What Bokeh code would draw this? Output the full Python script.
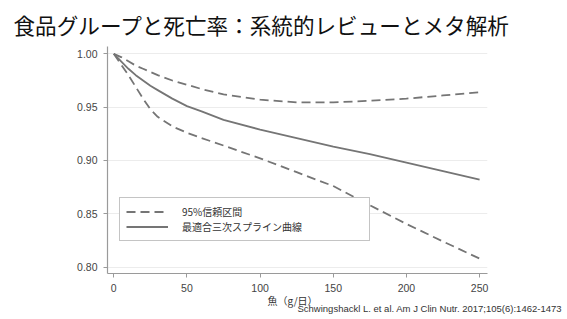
from bokeh.plotting import figure
from bokeh.models import Range1d, Legend, LegendItem, Title, FixedTicker, NumeralTickFormatter
from bokeh.embed import file_html
from bokeh.resources import INLINE

title_text = "食品グループと死亡率：系統的レビューとメタ解析"
x_label = "魚（g/日）"
citation = "Schwingshackl L. et al. Am J Clin Nutr. 2017;105(6):1462-1473"
legend_ci = "95%信頼区間"
legend_fit = "最適合三次スプライン曲線"

fish = [0, 5, 10, 15, 20, 25, 30, 40, 50, 60, 75, 100, 125, 150, 175, 200, 225, 250]
upper = [1.000, 0.997, 0.993, 0.989, 0.986, 0.983, 0.980, 0.975, 0.971, 0.967, 0.962,
         0.957, 0.9545, 0.9545, 0.956, 0.958, 0.961, 0.964]
fit = [1.000, 0.993, 0.986, 0.980, 0.975, 0.970, 0.966, 0.958, 0.951, 0.946, 0.938,
       0.929, 0.921, 0.913, 0.906, 0.898, 0.890, 0.882]
lower = [1.000, 0.990, 0.980, 0.969, 0.958, 0.948, 0.941, 0.932, 0.926, 0.921, 0.914,
         0.902, 0.889, 0.876, 0.858, 0.8405, 0.824, 0.808]

x_ticks = [0, 50, 100, 150, 200, 250]
y_ticks = [0.80, 0.85, 0.90, 0.95, 1.00]

JP = "Noto Sans CJK JP"
line_col = "#757575"

p = figure(width=567, height=319, output_backend="svg", toolbar_location=None,
           x_range=Range1d(-4.3, 255.4), y_range=Range1d(0.794, 1.0069),
           min_border_left=107, min_border_right=80, min_border_top=46,
           min_border_bottom=46)
p.outline_line_color = None
p.background_fill_color = "white"
p.border_fill_color = "white"

r_up = p.line(fish, upper, line_color=line_col, line_width=1.8, line_dash="9 5")
r_lo = p.line(fish, lower, line_color=line_col, line_width=1.8, line_dash="9 5")
r_fit = p.line(fish, fit, line_color=line_col, line_width=1.8)

p.xgrid.grid_line_color = None
p.ygrid.grid_line_color = "#ececec"
p.ygrid.grid_line_width = 1

for ax in (p.xaxis[0], p.yaxis[0]):
    ax.axis_line_color = "#9a9a9a"
    ax.axis_line_width = 1.2
    ax.major_tick_line_color = "#9a9a9a"
    ax.major_tick_out = 4
    ax.major_tick_in = 0
    ax.minor_tick_line_color = None
    ax.major_label_text_font = "Liberation Sans"
    ax.major_label_text_font_size = "10.5px"
    ax.major_label_text_color = "#444444"
    ax.major_label_standoff = 6

p.xaxis[0].ticker = FixedTicker(ticks=x_ticks)
p.yaxis[0].ticker = FixedTicker(ticks=y_ticks)
p.yaxis[0].formatter = NumeralTickFormatter(format="0.00")

legend = Legend(items=[LegendItem(label=legend_ci, renderers=[r_up]),
                       LegendItem(label=legend_fit, renderers=[r_fit])],
                location=(12, 32))
legend.padding = 6
legend.margin = 0
legend.spacing = 0
legend.glyph_width = 42
legend.glyph_height = 13
legend.label_height = 13
legend.label_standoff = 14
legend.label_width = 181
legend.label_text_font = JP
legend.label_text_font_size = "10px"
legend.label_text_color = "#333333"
legend.border_line_color = "#8a8a8a"
legend.border_line_width = 1
legend.background_fill_alpha = 1
p.add_layout(legend, "center")

p.title = Title(text=title_text, text_font=JP, text_font_size="21.6px",
                text_color="#111111", text_font_style="normal", align="left",
                vertical_align="top", offset=-94, standoff=10)
p.add_layout(Title(text=x_label, text_font=JP, text_font_size="10px",
                   text_color="#333333", text_font_style="normal", align="left",
                   offset=160, standoff=-8), "below")
p.add_layout(Title(text=citation, text_font="Liberation Sans", text_font_size="9.5px",
                   text_color="#333333", text_font_style="normal", align="left",
                   offset=190, standoff=-5), "below")

open("out.html", "w").write(file_html(p, INLINE))
